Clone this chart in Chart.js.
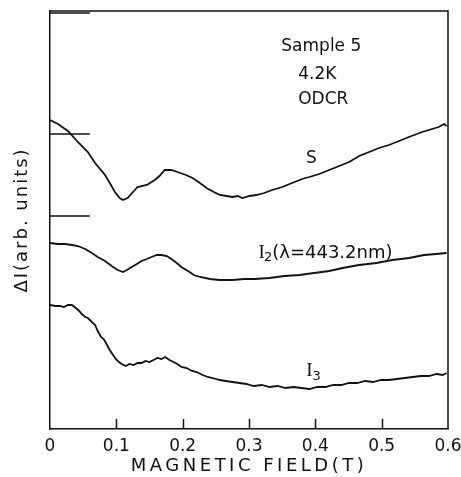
<!DOCTYPE html>
<html>
<head>
<meta charset="utf-8">
<script src="https://cdn.jsdelivr.net/npm/chart.js@4.4.1/dist/chart.umd.min.js"></script>
<style>
  body { margin: 0; background: #fff; }
</style>
</head>
<body>
<canvas id="chart" width="461" height="477"></canvas>
<script>
// field values (T) and signal (arb. units)
const sField = [0, 0.012, 0.027, 0.042, 0.057, 0.068, 0.083, 0.098, 0.105, 0.110, 0.117, 0.132, 0.146, 0.158, 0.165, 0.173, 0.183, 0.192, 0.205, 0.215, 0.226, 0.236, 0.247, 0.256, 0.266, 0.275, 0.283, 0.290, 0.301, 0.311, 0.323, 0.335, 0.350, 0.365, 0.380, 0.391, 0.406, 0.421, 0.436, 0.451, 0.466, 0.481, 0.496, 0.511, 0.526, 0.541, 0.561, 0.576, 0.586, 0.594, 0.598];
const sSignal = [309, 305, 298, 287, 277, 266, 254, 237, 231, 229, 231, 242, 244, 249, 253, 259, 259, 257, 254, 251, 246, 241, 237, 234, 233, 232, 233, 231, 233, 234, 236, 239, 242, 246, 250, 252, 255, 259, 263, 267, 273, 277, 281, 284, 288, 292, 297, 300, 302, 305, 303];

const i2Field = [0, 0.012, 0.023, 0.033, 0.042, 0.053, 0.063, 0.072, 0.083, 0.093, 0.102, 0.110, 0.116, 0.123, 0.131, 0.138, 0.146, 0.153, 0.161, 0.168, 0.176, 0.183, 0.191, 0.198, 0.208, 0.217, 0.226, 0.241, 0.256, 0.275, 0.293, 0.308, 0.331, 0.353, 0.376, 0.398, 0.421, 0.441, 0.466, 0.492, 0.516, 0.541, 0.564, 0.582, 0.598];
const i2Signal = [186, 185, 185, 184, 183, 180, 176, 172, 168, 163, 159, 157, 159, 162, 165, 168, 170, 172, 174, 174, 173, 170, 166, 162, 158, 154, 152, 150, 149, 149, 150, 150, 151, 153, 154, 156, 158, 161, 164, 166, 169, 171, 174, 175, 176];

const i3Field = [0, 0.008, 0.015, 0.021, 0.027, 0.033, 0.039, 0.044, 0.048, 0.053, 0.057, 0.063, 0.068, 0.072, 0.077, 0.081, 0.086, 0.090, 0.095, 0.099, 0.104, 0.108, 0.114, 0.120, 0.126, 0.132, 0.138, 0.144, 0.150, 0.156, 0.162, 0.168, 0.174, 0.180, 0.186, 0.192, 0.198, 0.206, 0.214, 0.221, 0.230, 0.238, 0.245, 0.256, 0.265, 0.275, 0.286, 0.296, 0.307, 0.319, 0.331, 0.343, 0.355, 0.367, 0.379, 0.391, 0.403, 0.415, 0.427, 0.439, 0.451, 0.463, 0.475, 0.487, 0.499, 0.511, 0.523, 0.535, 0.547, 0.559, 0.571, 0.583, 0.592, 0.598];
const i3Signal = [124, 123, 123, 122, 124, 124, 121, 118, 115, 112, 111, 107, 104, 98, 92, 90, 84, 79, 74, 70, 67, 65, 63, 65, 64, 66, 66, 68, 67, 69, 71, 70, 72, 69, 67, 65, 62, 61, 58, 57, 54, 52, 51, 49, 48, 47, 46, 45, 43, 44, 42, 43, 41, 42, 41, 40, 42, 42, 44, 44, 46, 46, 48, 47, 49, 49, 50, 51, 52, 53, 53, 55, 54, 56];

// zero-level markers on the left axis
const markerField = [0, 0.06];
const markerLevels = [416, 295, 213];

const xTicks = [0, 0.1, 0.2, 0.3, 0.4, 0.5, 0.6];

// text inside the plot, in data units
const notes = [
  { text: 'Sample 5', x: 0.409, y: 382, font: '17px "DejaVu Sans"', align: 'center' },
  { text: '4.2K', x: 0.403, y: 354, font: '17px "DejaVu Sans"', align: 'center' },
  { text: 'ODCR', x: 0.412, y: 329, font: '17px "DejaVu Sans"', align: 'center' },
  { text: 'S', x: 0.394, y: 270, font: '17px "DejaVu Sans"', align: 'center' },
  { text: 'I', x: 0.319, y: 176, font: '19px "Liberation Serif"', align: 'center' },
  { text: '2', x: 0.329, y: 171, font: '13px "DejaVu Sans"', align: 'center' },
  { text: '(λ=443.2nm)', x: 0.335, y: 176, font: '18px "DejaVu Sans"', align: 'left' },
  { text: 'I', x: 0.391, y: 58, font: '19px "Liberation Serif"', align: 'center' },
  { text: '3', x: 0.402, y: 52, font: '13px "DejaVu Sans"', align: 'center' }
];

const pts = (xs, ys) => xs.map((x, i) => ({ x, y: ys[i] }));

const curve = (label, data) => ({
  label,
  data,
  borderColor: '#111',
  borderWidth: 1.8,
  pointRadius: 0,
  tension: 0,
  fill: false
});

const datasets = [
  curve('S', pts(sField, sSignal)),
  curve('I2', pts(i2Field, i2Signal)),
  curve('I3', pts(i3Field, i3Signal)),
  ...markerLevels.map(lv => ({
    ...curve('marker', markerField.map(x => ({ x, y: lv }))),
    borderWidth: 1.4
  }))
];

// spaced-out axis titles like the original lettering
const spaceTitle = spacing => axis => {
  if (axis._spaced) return;
  const orig = axis.drawTitle.bind(axis);
  axis.drawTitle = function () {
    axis.ctx.save();
    axis.ctx.letterSpacing = spacing;
    orig();
    axis.ctx.restore();
  };
  axis._spaced = true;
};

const framePlugin = {
  id: 'frame',
  afterDraw(chart) {
    const { ctx, chartArea: a, scales } = chart;
    ctx.save();
    ctx.strokeStyle = '#111';
    ctx.lineWidth = 1.5;
    ctx.beginPath();
    ctx.moveTo(a.left, a.top);
    ctx.lineTo(a.right, a.top);
    ctx.lineTo(a.right, a.bottom);
    ctx.stroke();

    // inward tick marks on the field axis
    ctx.beginPath();
    xTicks.slice(1, -1).forEach(v => {
      const px = Math.round(scales.x.getPixelForValue(v)) + 0.5;
      ctx.moveTo(px, a.bottom);
      ctx.lineTo(px, a.bottom - 10);
    });
    ctx.stroke();

    ctx.fillStyle = '#111';
    ctx.textBaseline = 'middle';
    notes.forEach(n => {
      ctx.font = n.font;
      ctx.textAlign = n.align;
      ctx.fillText(n.text, scales.x.getPixelForValue(n.x), scales.y.getPixelForValue(n.y));
    });
    ctx.restore();
  }
};

new Chart(document.getElementById('chart'), {
  type: 'line',
  data: { datasets },
  options: {
    responsive: false,
    animation: false,
    layout: { padding: { top: 11, right: 13, left: 0, bottom: 0 } },
    plugins: { legend: { display: false }, tooltip: { enabled: false } },
    scales: {
      x: {
        type: 'linear',
        min: 0,
        max: 0.6,
        afterBuildTicks: axis => { axis.ticks = xTicks.map(v => ({ value: v })); },
        afterFit: axis => {
          axis.height = 48;
          axis.paddingLeft = 0;
          axis.paddingRight = 0;
        },
        afterUpdate: spaceTitle('3.5px'),
        grid: { drawOnChartArea: false, drawTicks: false },
        border: { color: '#111', width: 1.5 },
        ticks: {
          color: '#111',
          padding: 7,
          font: { family: 'DejaVu Sans', size: 17 },
          callback: v => (v === 0 ? '0' : v.toFixed(1))
        },
        title: {
          display: true,
          text: 'MAGNETIC FIELD(T)',
          color: '#111',
          font: { family: 'DejaVu Sans', size: 18 },
          padding: { top: 0, bottom: 0 }
        }
      },
      y: {
        min: 0,
        max: 418,
        afterFit: axis => { axis.width = 50; },
        afterUpdate: spaceTitle('2px'),
        grid: { drawOnChartArea: false, drawTicks: false },
        border: { color: '#111', width: 1.5 },
        ticks: { display: false },
        title: {
          display: true,
          text: 'ΔI(arb. units)',
          color: '#111',
          font: { family: 'DejaVu Sans', size: 18 },
          padding: { top: 12, bottom: 0 }
        }
      }
    }
  },
  plugins: [framePlugin]
});
</script>
</body>
</html>
